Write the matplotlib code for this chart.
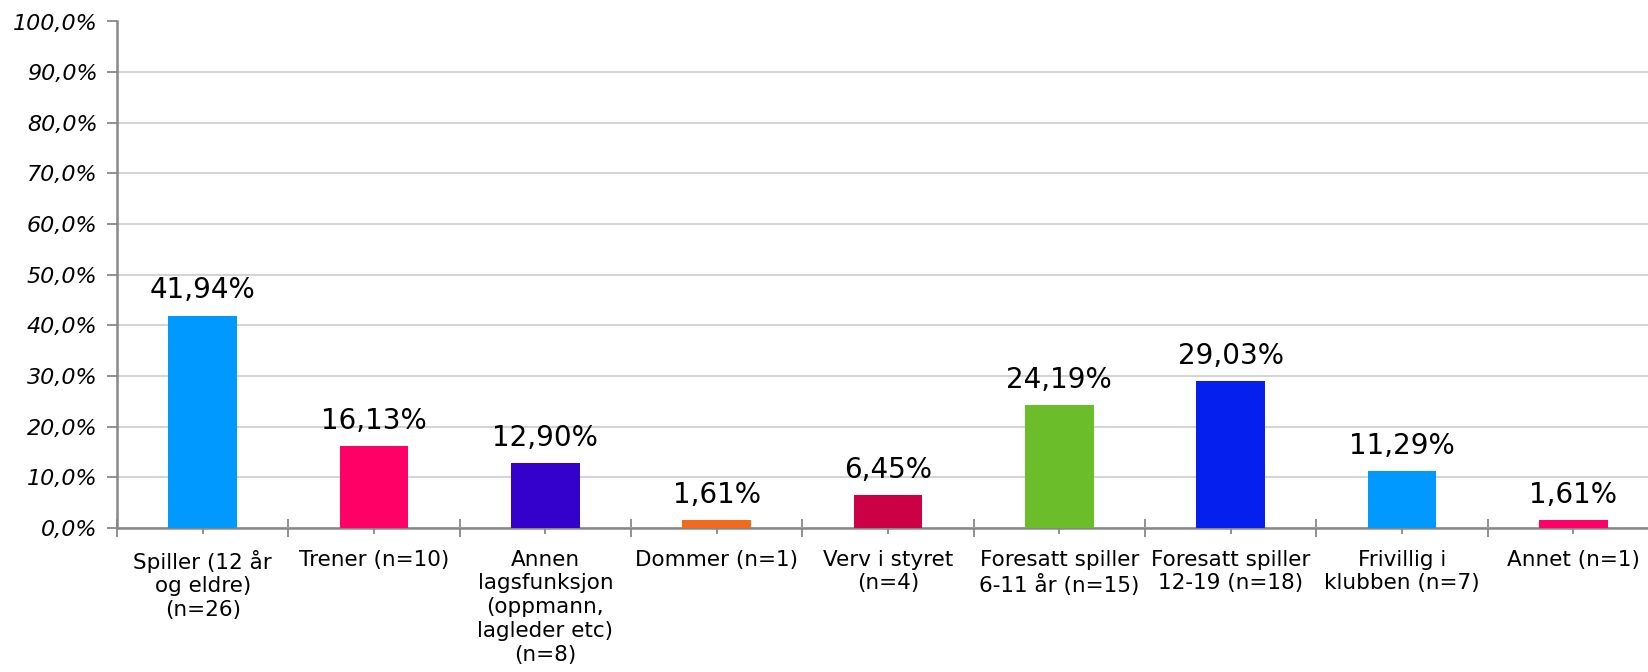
import numpy as np
import matplotlib.pyplot as plt

categories = ["Spiller (12 år\nog eldre)\n(n=26)", "Trener (n=10)",
              "Annen\nlagsfunksjon\n(oppmann,\nlagleder etc)\n(n=8)",
              "Dommer (n=1)", "Verv i styret\n(n=4)",
              "Foresatt spiller\n6-11 år (n=15)", "Foresatt spiller\n12-19 (n=18)",
              "Frivillig i\nklubben (n=7)", "Annet (n=1)"]
values = [41.94, 16.13, 12.90, 1.61, 6.45, 24.19, 29.03, 11.29, 1.61]
colors = ["#0099FF", "#FF0066", "#3300CC", "#F26A1B", "#CC0044",
          "#6BBE2A", "#0520EE", "#0099FF", "#FF0066"]
yticks = np.arange(0, 101, 10)

plt.rcParams['font.family'] = ['DejaVu Sans']

fig = plt.figure(figsize=(16.48, 6.72), dpi=100)
# plot area runs past the right edge of the figure, like the reference
ax = fig.add_axes([117 / 1648, 1 - 528 / 672, 1542 / 1648, 506.5 / 672])

x = np.arange(len(values))
ax.bar(x, values, width=0.4, color=colors, zorder=3)

for xi, v in zip(x, values):
    ax.annotate("{:.2f}%".format(v).replace(".", ","), (xi, v),
                xytext=(0, 8), textcoords="offset points",
                ha="center", va="bottom", fontsize=20, color="black")

ax.set_xlim(-0.5, len(values) - 0.5)
ax.set_ylim(0, 100)
ax.set_yticks(yticks)
ax.set_yticklabels(["{:.1f}%".format(t).replace(".", ",") for t in yticks],
                   fontsize=16, style="italic")
ax.yaxis.grid(True, color="#d4d4d4", lw=1.5, zorder=0)

ax.set_xticks(x)
ax.set_xticklabels(categories, fontsize=15.5, linespacing=1.24)
ax.set_xticks(np.arange(len(values) + 1) - 0.5, minor=True)
ax.tick_params(axis="x", which="major", direction="inout", length=9,
               color="#888888", width=1.3, pad=11)
ax.tick_params(axis="x", which="minor", direction="inout", length=13,
               color="#888888", width=1.3)
ax.tick_params(axis="y", direction="out", length=7, color="#888888",
               width=1.3, pad=7)

for side in ["top", "right"]:
    ax.spines[side].set_visible(False)
for side in ["left", "bottom"]:
    ax.spines[side].set_color("#888888")
    ax.spines[side].set_linewidth(1.8)

fig.savefig("out.png", dpi=100)
